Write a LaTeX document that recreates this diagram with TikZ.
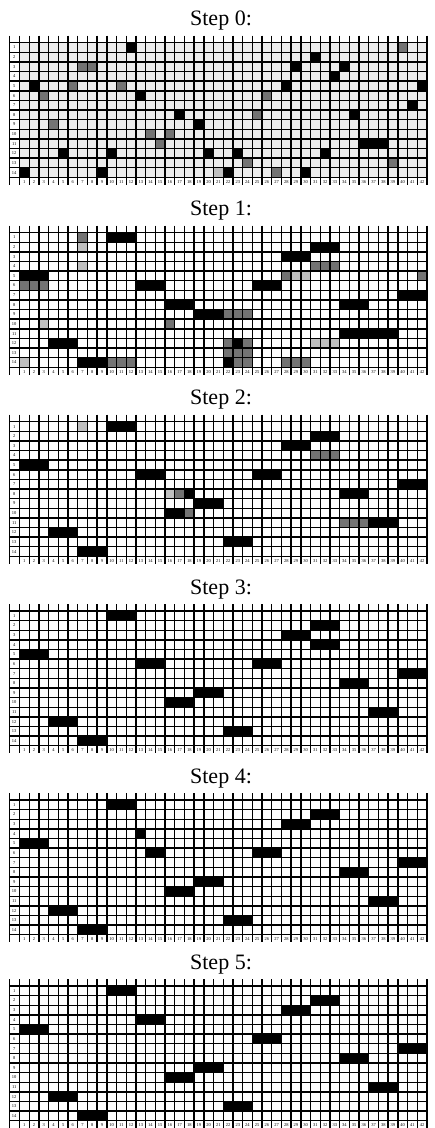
\documentclass[tikz,border=0pt]{standalone}
\usepackage{fontspec}
\setmainfont{Liberation Serif}
\tikzset{
  gridline/.style={line width=1.4pt},
  on/.style={fill=black},
  half/.style={fill=black!55},
  faint/.style={fill=black!25},
  steplabel/.style={font=\fontsize{22}{24}\selectfont,anchor=base,inner sep=0pt},
  idx/.style={font=\fontsize{4.5}{5}\selectfont,inner sep=0pt},
}
% filled runs of cells: #1 top edge, #2 style, #3 row/first/last
\newcommand{\cellruns}[3]{%
  \foreach \r/\a/\b in {#3}
    \fill[#2] ({9.8+9.7*\a},{#1+9.62*(\r-1)}) rectangle ({19.5+9.7*\b},{#1+9.62*\r});}
% title and grid of one step: #1 step, #2 top edge
\newcommand{\stepgrid}[2]{%
  \node[steplabel] (step#1) at (221,{#2-17}) {Step #1:};
  \foreach \c in {0,...,42}
    \draw[gridline] ({19.5+9.7*\c},{#2-7}) -- ({19.5+9.7*\c},{#2+142});
  \draw[gridline,line width=0.8pt] (9,{#2-7}) -- (9,{#2+142});
  \foreach \r in {0,...,14}
    \draw[gridline] (9,{#2+9.62*\r}) -- (427,{#2+9.62*\r});
  \foreach \r in {1,...,14}
    \node[idx] at (14.2,{#2+9.62*(\r-0.5)}) {\r};
  \foreach \c in {1,...,42}
    \node[idx] at ({14.65+9.7*\c},{#2+139}) {\c};}

\begin{document}
\begin{tikzpicture}[x=1pt,y=-1pt]
\useasboundingbox (0,0) rectangle (435,1128);

% Step 0
\fill[black!7] (19.5,42.7) rectangle (426.9,177.4);
\cellruns{42.7}{on}{1/12/12, 2/31/31, 3/29/29, 3/34/34, 4/33/33, 5/2/2, 5/28/28, 5/42/42,
  6/13/13, 7/41/41, 8/17/17, 8/35/35, 9/19/19, 11/36/38, 12/5/5, 12/10/10, 12/20/20,
  12/23/23, 12/32/32, 14/1/1, 14/9/9, 14/22/22, 14/30/30}
\cellruns{42.7}{half}{1/40/40, 3/7/8, 5/6/6, 5/11/11, 6/3/3, 6/26/26, 8/25/25, 9/4/4,
  10/14/14, 10/16/16, 11/15/15, 13/24/24, 13/39/39, 14/27/27}
\cellruns{42.7}{faint}{14/21/21}
\stepgrid{0}{42.7}

% Step 1
\cellruns{232.6}{on}{1/10/12, 2/31/33, 3/28/30, 5/1/3, 6/13/15, 6/25/27, 7/40/42, 8/16/18,
  8/34/36, 9/19/21, 11/34/39, 12/4/6, 12/23/23, 14/7/9, 14/22/22}
\cellruns{232.6}{half}{1/7/7, 4/31/33, 5/28/28, 5/42/42, 6/1/3, 9/22/24, 10/16/16, 12/22/22,
  12/24/24, 13/22/24, 14/10/12, 14/23/24, 14/28/30}
\cellruns{232.6}{faint}{2/7/7, 4/7/7, 5/29/30, 10/3/3, 12/31/33, 14/1/1}
\stepgrid{1}{232.6}

% Step 2
\cellruns{421.7}{on}{1/10/12, 2/31/33, 3/28/30, 5/1/3, 6/13/15, 6/25/27, 7/40/42, 8/18/18,
  8/34/36, 9/19/21, 10/16/17, 11/37/39, 12/4/6, 13/22/24, 14/7/9}
\cellruns{421.7}{half}{4/31/33, 8/17/17, 10/18/18, 11/34/36}
\cellruns{421.7}{faint}{1/7/7, 8/16/16}
\stepgrid{2}{421.7}

% Step 3
\cellruns{611}{on}{1/10/12, 2/31/33, 3/28/30, 4/31/33, 5/1/3, 6/13/15, 6/25/27, 7/40/42,
  8/34/36, 9/19/21, 10/16/18, 11/37/39, 12/4/6, 13/22/24, 14/7/9}
\stepgrid{3}{611}

% Step 4
\cellruns{800}{on}{1/10/12, 2/31/33, 3/28/30, 4/13/13, 5/1/3, 6/14/15, 6/25/27, 7/40/42,
  8/34/36, 9/19/21, 10/16/18, 11/37/39, 12/4/6, 13/22/24, 14/7/9}
\stepgrid{4}{800}

% Step 5
\cellruns{986}{on}{1/10/12, 2/31/33, 3/28/30, 4/13/15, 5/1/3, 6/25/27, 7/40/42, 8/34/36,
  9/19/21, 10/16/18, 11/37/39, 12/4/6, 13/22/24, 14/7/9}
\stepgrid{5}{986}
\end{tikzpicture}
\end{document}
